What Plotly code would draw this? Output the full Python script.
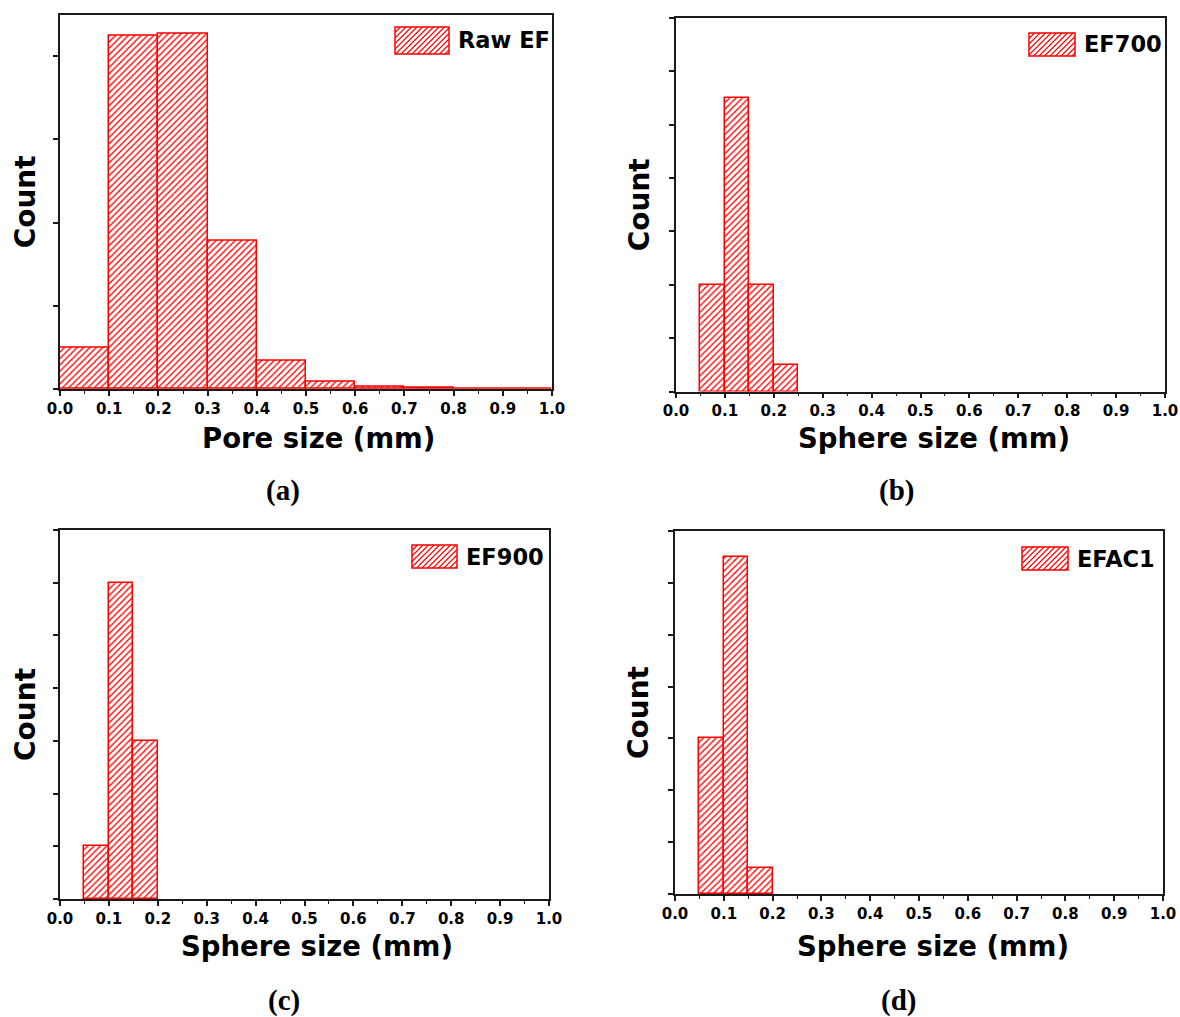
import plotly.graph_objects as go

# page (browser window) size; the page body margin is removed by a post script
W, H = 1180, 1017

# ---------------- data ----------------
a_edges = [0.0, 0.1, 0.2, 0.3, 0.4, 0.5, 0.6, 0.7, 0.8, 0.9, 1.0]
a_counts = [50, 425, 427, 178, 34, 8.5, 3, 1.2, 0.6, 0.4]

b_edges = [0.05, 0.10, 0.15, 0.20, 0.25]
b_counts = [20, 55, 20, 5]

c_edges = [0.05, 0.10, 0.15, 0.20]
c_counts = [10, 60, 30]

d_edges = [0.05, 0.10, 0.15, 0.20]
d_counts = [30, 65, 5]

x_tick_vals = [0.0, 0.1, 0.2, 0.3, 0.4, 0.5, 0.6, 0.7, 0.8, 0.9, 1.0]
x_tick_text = ["0.0", "0.1", "0.2", "0.3", "0.4", "0.5", "0.6", "0.7", "0.8", "0.9", "1.0"]

series_names = ["Raw EF", "EF700", "EF900", "EFAC1"]
panel_letters = ["(a)", "(b)", "(c)", "(d)"]
x_titles = ["Pore size (mm)", "Sphere size (mm)", "Sphere size (mm)", "Sphere size (mm)"]
y_title = "Count"
y_ranges = [[0, 450], [0, 70], [0, 70], [0, 70]]
y_dticks = [100, 10, 10, 10]

edges_list = [a_edges, b_edges, c_edges, d_edges]
counts_list = [a_counts, b_counts, c_counts, d_counts]

# ---------------- layout geometry (page pixels) ----------------
# (left, right, top, bottom)
boxes = [
    (60, 552, 14.7, 389),
    (676, 1165, 18, 391.5),
    (60, 549, 530, 899),
    (675, 1163, 531, 894),
]
legend_boxes = [
    (395, 449, 27, 54),
    (1029, 1075, 33, 56),
    (412, 457, 545, 568),
    (1022, 1068, 547, 570),
]
xtitle_pos = [(318, 438), (934, 438), (317, 946), (933, 946)]
letter_pos = [(283, 491), (897, 491), (284, 1000), (898, 1000)]
ytitle_standoff = [9, 11, 9, 11]

RED = "#ff0000"
AX = "#1a1a1a"
FONT = "DejaVu Sans"


def px(x):
    return x / W


def py(y):
    return 1 - y / H


fig = go.Figure()
shapes = []
annotations = []

for i in range(4):
    edges = edges_list[i]
    counts = counts_list[i]
    centers = [(edges[k] + edges[k + 1]) / 2 for k in range(len(counts))]
    widths = [edges[k + 1] - edges[k] for k in range(len(counts))]
    sfx = "" if i == 0 else str(i + 1)
    fig.add_trace(go.Bar(
        x=centers, y=counts, width=widths,
        name=series_names[i], showlegend=False,
        xaxis="x" + sfx, yaxis="y" + sfx,
        marker=dict(
            color="white",
            line=dict(color=RED, width=1.5),
            pattern=dict(shape="/", fgcolor=RED, bgcolor="white",
                         size=4.5, solidity=0.3, fillmode="replace"),
        ),
    ))

    l, r, t, b = boxes[i]
    xa = dict(
        domain=[px(l), px(r)], range=[0, 1], anchor="y" + sfx, automargin=False,
        tickvals=x_tick_vals, ticktext=x_tick_text, ticklabeloverflow="allow",
        ticks="outside", ticklen=5, tickwidth=1.5, tickcolor=AX,
        minor=dict(tick0=0, dtick=0.05, ticks="outside", ticklen=3,
                   tickwidth=1.2, tickcolor=AX),
        showline=True, linecolor=AX, linewidth=1.5, mirror=True,
        showgrid=False, zeroline=False,
        tickfont=dict(family=FONT, size=15, color="black", weight="bold"),
    )
    ya = dict(
        domain=[py(b), py(t)], range=y_ranges[i], anchor="x" + sfx, automargin=False,
        tick0=0, dtick=y_dticks[i], showticklabels=False,
        ticks="outside", ticklen=5, tickwidth=1.5, tickcolor=AX,
        showline=True, linecolor=AX, linewidth=1.5, mirror=True,
        showgrid=False, zeroline=False,
        title=dict(text=y_title, standoff=ytitle_standoff[i],
                   font=dict(family=FONT, size=28, color="black", weight="bold")),
    )
    fig.update_layout(**{"xaxis" + sfx: xa, "yaxis" + sfx: ya})

    # x-axis title (placed as text, slightly right of the axis centre as in the original)
    tx, ty = xtitle_pos[i]
    annotations.append(dict(text=x_titles[i], xref="paper", yref="paper",
                            x=px(tx), y=py(ty), xanchor="center", yanchor="middle",
                            showarrow=False,
                            font=dict(family=FONT, size=27.5, color="black", weight="bold")))

    # legend swatch (hatched box) + legend text
    lx0, lx1, ly0, ly1 = legend_boxes[i]
    shapes.append(dict(type="rect", xref="paper", yref="paper",
                       x0=px(lx0), x1=px(lx1), y0=py(ly1), y1=py(ly0),
                       line=dict(color=RED, width=1.5), fillcolor="white", layer="above"))
    path = ""
    step = 5.5
    s = lx0 + ly0 + step
    while s < lx1 + ly1:
        xa0 = max(lx0, s - ly1)
        xb0 = min(lx1, s - ly0)
        if xb0 > xa0:
            path += "M%.5f,%.5f L%.5f,%.5f " % (px(xa0), py(s - xa0), px(xb0), py(s - xb0))
        s += step
    shapes.append(dict(type="path", xref="paper", yref="paper", path=path,
                       line=dict(color=RED, width=1.1), layer="above"))
    annotations.append(dict(text=series_names[i], xref="paper", yref="paper",
                            x=px(lx1 + 7), y=py((ly0 + ly1) / 2),
                            xanchor="left", yanchor="middle", showarrow=False,
                            font=dict(family=FONT, size=22.5, color="black", weight="bold")))
    # panel letter
    lxp, lyp = letter_pos[i]
    annotations.append(dict(text=panel_letters[i], xref="paper", yref="paper",
                            x=px(lxp), y=py(lyp), xanchor="center", yanchor="middle",
                            showarrow=False,
                            font=dict(family="Liberation Serif", size=29, color="black",
                                      weight="bold")))

fig.update_layout(
    width=W, height=H,
    margin=dict(l=0, r=0, t=0, b=0, autoexpand=False),
    paper_bgcolor="white", plot_bgcolor="white",
    bargap=0, shapes=shapes, annotations=annotations,
)

fig.write_html(
    "out.html",
    config={"displayModeBar": False},
    post_script="document.body.style.margin='0px';document.body.style.overflow='hidden';",
)
